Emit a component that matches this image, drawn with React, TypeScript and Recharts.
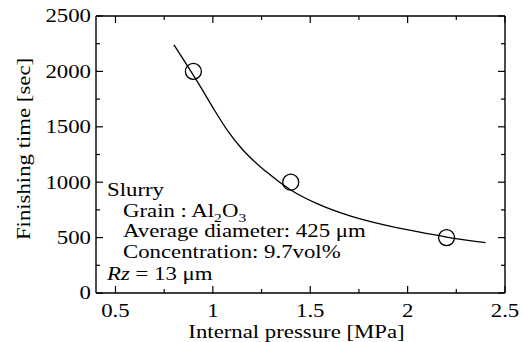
import React from "react";
import { ComposedChart, Line, Scatter, XAxis, YAxis } from "recharts";

// measured points
const pointX = [0.9, 1.4, 2.2];
const pointY = [2000, 1000, 500];

// fitted curve
const curveX = [0.8, 0.93, 1.01, 1.07, 1.15, 1.27, 1.4, 1.55, 1.7, 1.88, 2.05, 2.2, 2.4];
const curveY = [2240, 1880, 1645, 1480, 1300, 1100, 930, 795, 698, 614, 553, 505, 455];

const xTicks = [0.5, 0.75, 1, 1.25, 1.5, 1.75, 2, 2.25, 2.5];
const yTicks = [0, 250, 500, 750, 1000, 1250, 1500, 1750, 2000, 2250, 2500];
const xDomain: [number, number] = [0.4, 2.5];
const yDomain: [number, number] = [0, 2500];

const xLabel = "Internal pressure [MPa]";
const yLabel = "Finishing time [sec]";

const pointData = pointX.map((x, i) => ({ x, y: pointY[i] }));
const curveData = curveX.map((x, i) => ({ x, y: curveY[i] }));

const FONT = "'Liberation Serif', 'Times New Roman', serif";
const FS = 19;
const SX = 1.2;

function T(props: any) {
  const { x, y, anchor = "start", rotate = 0, children } = props;
  return (
    <text
      transform={`translate(${x} ${y}) rotate(${rotate}) scale(${SX} 1)`}
      textAnchor={anchor}
      style={{ fontFamily: FONT, fontSize: FS }}
      fill="#000"
    >
      {children}
    </text>
  );
}

const isMajorX = (v: number) => Math.abs(v * 2 - Math.round(v * 2)) < 1e-6;
const isMajorY = (v: number) => v % 500 === 0;

const BottomTick = (p: any) => {
  const { x, y, payload } = p;
  const major = isMajorX(payload.value);
  return (
    <g>
      <line x1={x} x2={x} y1={y} y2={y - (major ? 7 : 4)} stroke="#000" strokeWidth={1.2} />
      {major && (
        <T x={x} y={y + 23.5} anchor="middle">
          {String(payload.value)}
        </T>
      )}
    </g>
  );
};

const TopTick = (p: any) => {
  const { x, y, payload } = p;
  const major = isMajorX(payload.value);
  return (
    <g>
      <line x1={x} x2={x} y1={y} y2={y + (major ? 7 : 4)} stroke="#000" strokeWidth={1.2} />
    </g>
  );
};

const LeftTick = (p: any) => {
  const { x, y, payload } = p;
  const major = isMajorY(payload.value);
  return (
    <g>
      <line x1={x} x2={x + (major ? 7 : 4)} y1={y} y2={y} stroke="#000" strokeWidth={1.2} />
      {major && (
        <T x={x - 5} y={y + 6.3} anchor="end">
          {String(payload.value)}
        </T>
      )}
    </g>
  );
};

const RightTick = (p: any) => {
  const { x, y, payload } = p;
  const major = isMajorY(payload.value);
  return (
    <g>
      <line x1={x} x2={x - (major ? 7 : 4)} y1={y} y2={y} stroke="#000" strokeWidth={1.2} />
    </g>
  );
};

const Circle = (p: any) => {
  const { cx, cy } = p;
  return <circle cx={cx} cy={cy} r={8} fill="none" stroke="#000" strokeWidth={1.3} />;
};

const axisLine = { stroke: "#000", strokeWidth: 1.4 };

export default function App() {
  return (
    <div style={{ position: "absolute", left: 0, top: 0, width: 523, height: 342, background: "#fff" }}>
      <ComposedChart
        width={523}
        height={342}
        margin={{ top: 15, right: 17, bottom: 0, left: 0 }}
        style={{ position: "absolute", left: 0, top: 0 }}
      >
        <XAxis
          xAxisId="b"
          dataKey="x"
          type="number"
          domain={xDomain}
          ticks={xTicks}
          interval={0}
          height={49}
          tickSize={0}
          tickMargin={0}
          tickLine={false}
          axisLine={axisLine}
          tick={BottomTick}
          allowDataOverflow
        />
        <XAxis
          xAxisId="t"
          dataKey="x"
          type="number"
          orientation="top"
          domain={xDomain}
          ticks={xTicks}
          interval={0}
          height={1}
          tickSize={0}
          tickMargin={0}
          tickLine={false}
          axisLine={axisLine}
          tick={TopTick}
          allowDataOverflow
        />
        <YAxis
          yAxisId="l"
          type="number"
          domain={yDomain}
          ticks={yTicks}
          interval={0}
          width={96}
          tickSize={0}
          tickMargin={0}
          tickLine={false}
          axisLine={axisLine}
          tick={LeftTick}
          allowDataOverflow
        />
        <YAxis
          yAxisId="r"
          type="number"
          orientation="right"
          domain={yDomain}
          ticks={yTicks}
          interval={0}
          width={1}
          tickSize={0}
          tickMargin={0}
          tickLine={false}
          axisLine={axisLine}
          tick={RightTick}
          allowDataOverflow
        />
        <Line
          xAxisId="b"
          yAxisId="l"
          data={curveData}
          dataKey="y"
          type="monotone"
          stroke="#000"
          strokeWidth={1.3}
          dot={false}
          isAnimationActive={false}
        />
        <Scatter
          xAxisId="b"
          yAxisId="l"
          data={pointData}
          dataKey="y"
          shape={Circle}
          isAnimationActive={false}
        />
      </ComposedChart>
      <svg width={523} height={342} style={{ position: "absolute", left: 0, top: 0, pointerEvents: "none" }}>
        <T x={296.5} y={338} anchor="middle">{xLabel}</T>
        <T x={30} y={149} anchor="middle" rotate={-90}>{yLabel}</T>
        <T x={107} y={196}>Slurry</T>
        <T x={123} y={216.5}>
          Grain : Al<tspan dy={5} style={{ fontSize: 13 }}>2</tspan>
          <tspan dy={-5}>O</tspan>
          <tspan dy={5} style={{ fontSize: 13 }}>3</tspan>
        </T>
        <T x={123} y={237}>Average diameter: 425 μm</T>
        <T x={123} y={258}>Concentration: 9.7vol%</T>
        <T x={107} y={279.5}>
          <tspan style={{ fontStyle: "italic" }}>Rz</tspan> = 13 μm
        </T>
      </svg>
    </div>
  );
}
